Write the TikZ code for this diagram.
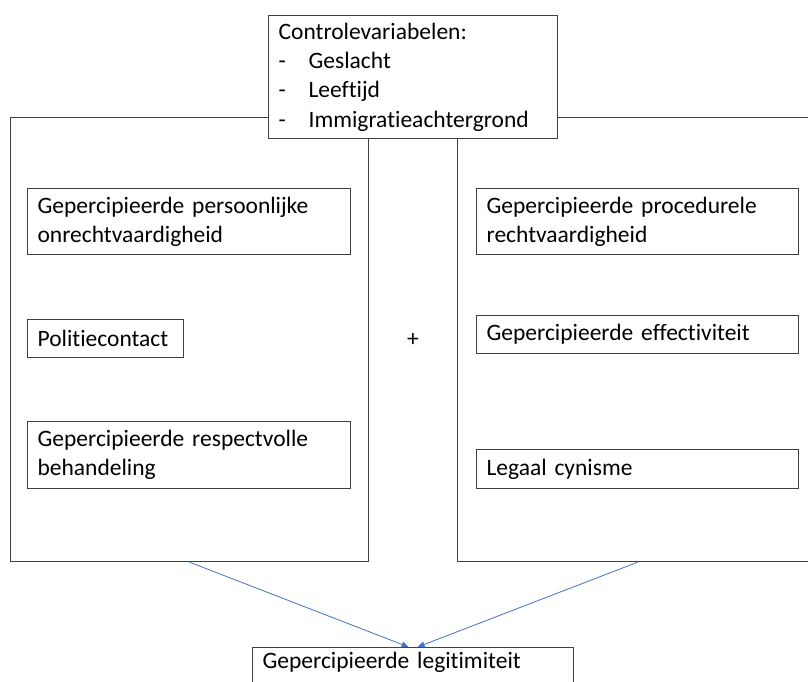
\documentclass[tikz,border=0pt]{standalone}
\usepackage{fontspec}
\setmainfont{Carlito}[Ligatures=NoCommon]
\usetikzlibrary{arrows.meta}
\definecolor{boxline}{HTML}{404040}
\definecolor{linkblue}{HTML}{4472C4}
\begin{document}
\begin{tikzpicture}[x=1pt,y=-1pt]
            \tikzstyle{every node}=[font=\fontsize{23.5}{28.8}\selectfont, text=black]
            \tikzstyle{group}=[draw=boxline, line width=1.2pt, anchor=north west, minimum height=444pt, inner sep=0pt]
            \tikzstyle{var}=[draw=boxline, line width=1.2pt, fill=white, anchor=north west, align=left, inner xsep=10pt, inner ysep=0pt]
            \tikzstyle{link}=[linkblue, line width=0.8pt, -{Triangle[length=7pt,width=6pt]}]

            \useasboundingbox (0,0) rectangle (808,682);
            \clip (0,0) rectangle (808,682);

            \node[group, minimum width=358pt] (lgroup) at (10,117) {};
            \node[group, minimum width=360pt] (rgroup) at (457,117) {};

            \node[var, text width=269pt, minimum height=123pt, font=\fontsize{23.5}{29.2}\selectfont] (ctrl) at (268,15)
                {Controlevariabelen:\\ \makebox[30pt][l]{-}Geslacht\\ \makebox[30pt][l]{-}Leeftijd\\ \makebox[30pt][l]{-}Immigratieachtergrond};

            \node[var, text width=303pt, minimum height=66pt] (onrecht) at (27,188) {Gepercipieerde persoonlijke\\ onrechtvaardigheid};
            \node[var, text width=136pt, minimum height=38pt] (contact) at (27,319) {Politiecontact};
            \node[var, text width=303pt, minimum height=67pt] (respect) at (27,421) {Gepercipieerde respectvolle\\ behandeling};

            \node[var, text width=302pt, minimum height=66pt] (proc) at (476,188) {Gepercipieerde procedurele\\ rechtvaardigheid};
            \node[var, text width=302pt, minimum height=38pt] (effect) at (476,315) {Gepercipieerde effectiviteit};
            \node[var, text width=302pt, minimum height=39pt] (cynisme) at (476,449) {Legaal cynisme};

            \node (plus) at (413,340) {+};

            \node[var, text width=301pt, text height=21pt, text depth=40pt] (legit) at (252,647) {Gepercipieerde legitimiteit};

            \draw[link] (lgroup.south) -- ([xshift=-4.5pt]legit.north);
            \draw[link] (rgroup.south) -- ([xshift=4.5pt]legit.north);
        \end{tikzpicture}
\end{document}
